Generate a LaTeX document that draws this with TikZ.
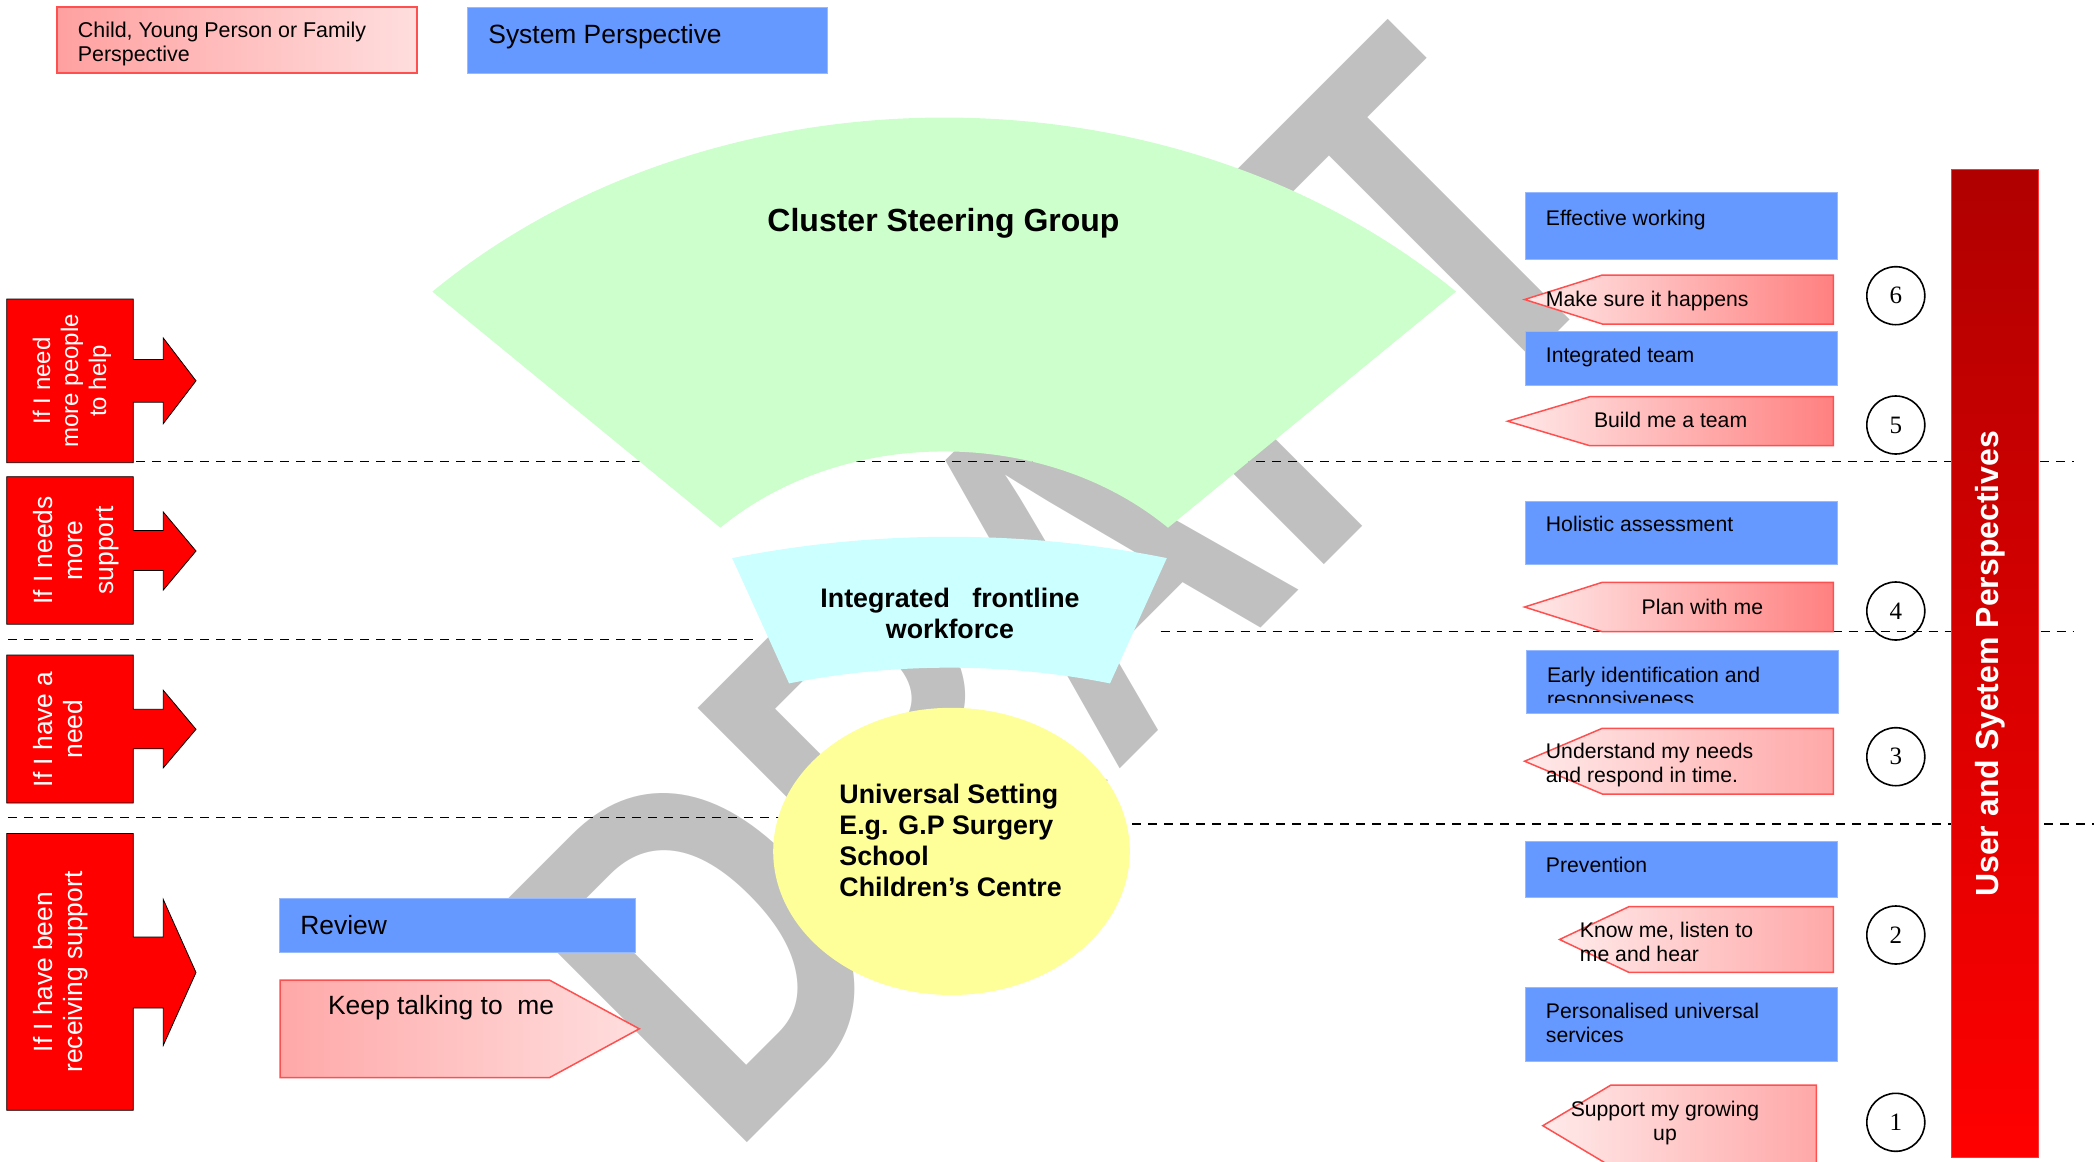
\documentclass[tikz,border=0pt]{standalone}
\usepackage{fontspec}
\setmainfont{Liberation Sans}
\newfontfamily\digitfont{Liberation Serif}
\usepackage{tikz}

\definecolor{boxblue}{RGB}{102,153,255}
\definecolor{boxedge}{RGB}{150,185,255}
\definecolor{pinkline}{RGB}{255,80,80}
\definecolor{pinklight}{RGB}{255,234,234}
\definecolor{pinkdark}{RGB}{255,128,128}
\definecolor{pinkmid}{RGB}{255,168,168}
\definecolor{legendleft}{RGB}{255,160,160}
\definecolor{legendright}{RGB}{255,222,222}
\definecolor{steergreen}{RGB}{204,255,204}
\definecolor{frontcyan}{RGB}{204,255,255}
\definecolor{univyellow}{RGB}{255,255,153}
\definecolor{needred}{RGB}{255,0,0}
\definecolor{bartop}{RGB}{176,0,0}
\definecolor{draftgrey}{RGB}{192,192,192}

\begin{document}
\begin{tikzpicture}[x=0.5pt,y=0.5pt,yscale=-1,xscale=1,
    bluebox/.style={fill=boxblue,draw=boxedge,line width=0.4pt},
    pinkarrow/.style={draw=pinkline,line width=0.75pt,left color=pinklight,right color=#1},
    pinkarrow/.default=pinkdark,
    needbox/.style={fill=needred},
    needtext/.style={rotate=90,text=white,align=center,anchor=base,inner sep=0pt,font=\fontsize{13.2}{15.35}\selectfont},
    boxtext/.style={anchor=base west,inner sep=0pt,align=left,font=\fontsize{10.6}{12}\selectfont},
    bigtext/.style={anchor=base west,inner sep=0pt,font=\fontsize{13.2}{15}\selectfont},
    boldtext/.style={inner sep=0pt,font=\bfseries\fontsize{13.4}{15.4}\selectfont},
    numcircle/.style={circle,draw,line width=0.8pt,minimum size=29pt,inner sep=0pt,font=\digitfont\fontsize{12.5}{14}\selectfont},
    dashline/.style={dash pattern=on 4.5pt off 3.5pt,line width=0.75pt}]
    \useasboundingbox (0,0) rectangle (2094,1162);
    \clip (0,0) rectangle (2094,1162);

    % Watermark
    \node (draft) [rotate=45,xscale=0.76,inner sep=0pt,text=draftgrey,font=\bfseries\fontsize{248}{248}\selectfont] at (1060,588) {DRAFT};

    %Dashed Lines
    \draw [dashline] (8,461.5) -- (2074,461.5) ;
    \draw [dashline] (8,639.5) -- (758.6,639.5) ;
    \draw [dashline] (1160.5,631.3) -- (2074,631.3) ;
    \draw [dashline] (8,817.5) -- (800,817.5) ;
    \draw [dashline] (1100,824) -- (2094,824) ;

    %Shape: Legend boxes
    \draw [draw=pinkline,line width=1pt,left color=legendleft,right color=legendright] (57.4,7.3) rectangle (417.3,73.3) ;
    \draw [bluebox] (467.3,7.3) rectangle (827.2,73.3) ;
    % Text Node
    \node (childlegend) [boxtext,font=\fontsize{10.7}{11.65}\selectfont] at (77.5,61) {Child, Young Person or Family\\Perspective};
    % Text Node
    \node (systemlegend) [bigtext] at (488,43) {System Perspective};

    %Shape: Cluster Steering Group
    \draw [fill=steergreen,draw=none] (432.4,291.6) arc [start angle=-135,end angle=-45,x radius=723.8,y radius=594.3] -- (1168,527.7) arc [start angle=-45,end angle=-135,x radius=316.5,y radius=260.4] -- cycle ;
    % Text Node
    \node (steering) [boldtext,anchor=base,font=\bfseries\fontsize{16}{18}\selectfont] at (943.5,231.5) {Cluster Steering Group};

    %Shape: Integrated frontline workforce
    \draw [fill=frontcyan,draw=none] (732.2,558.1) arc [start angle=-106.8,end angle=-73.2,x radius=751.9,y radius=499.5] -- (1110,683.4) arc [start angle=-73.2,end angle=-106.8,x radius=555.2,y radius=368.6] -- cycle ;
    % Text Node
    \node (frontline) [boldtext,anchor=base,align=center] at (950,638.6) {Integrated \ \ frontline\\workforce};

    %Shape: Universal Setting
    \draw [fill=univyellow,draw=none] (951.5,851.4) ellipse [x radius=178.3,y radius=143.6] ;
    % Text Node
    \node (universal) [boldtext,anchor=base west,align=left] at (839,896.3) {Universal Setting\\E.g. G.P Surgery\\School\\Children’s Centre};

    %Shape: Need boxes
    \draw [needbox] (6.7,299) -- (133.3,299) -- (133.3,359.4) -- (163.3,359.4) -- (163.3,338) -- (196,380.8) -- (163.3,423.6) -- (163.3,402.2) -- (133.3,402.2) -- (133.3,462.7) -- (6.7,462.7) -- cycle ;
    \draw [needbox] (6.7,476.7) -- (133.3,476.7) -- (133.3,530.4) -- (163.3,530.4) -- (163.3,512) -- (196,551) -- (163.3,590) -- (163.3,570.5) -- (133.3,570.5) -- (133.3,624.2) -- (6.7,624.2) -- cycle ;
    \draw [needbox] (6.7,655) -- (133.3,655) -- (133.3,709.3) -- (163.3,709.3) -- (163.3,690.3) -- (196,729.3) -- (163.3,767.8) -- (163.3,748.8) -- (133.3,748.8) -- (133.3,803) -- (6.7,803) -- cycle ;
    \draw [needbox] (6.7,833.4) -- (133.3,833.4) -- (133.3,937) -- (163.3,937) -- (163.3,899.5) -- (196,972.5) -- (163.3,1045.3) -- (163.3,1008) -- (133.3,1008) -- (133.3,1110.3) -- (6.7,1110.3) -- cycle ;
    % Text Node
    \node (needpeople) [needtext,font=\fontsize{12}{14}\selectfont] at (106,380.8) {If I need\\more people\\to help};
    % Text Node
    \node (needsupport) [needtext] at (113.5,550.4) {If I needs\\more\\support};
    % Text Node
    \node (needone) [needtext] at (83,729.3) {If I have a\\need};
    % Text Node
    \node (receiving) [needtext] at (83,972) {If I have been\\receiving support};

    %Shape: Review
    \draw [bluebox] (279.3,898.3) rectangle (635.7,952.3) ;
    % Text Node
    \node (review) [bigtext] at (300,934.5) {Review};
    %Shape: Keep talking
    \draw [draw=pinkline,line width=0.75pt,left color=pinkmid,right color=legendright] (280,980) -- (549.3,980) -- (639.3,1028.8) -- (549.3,1077.7) -- (280,1077.7) -- cycle ;
    % Text Node
    \node (keeptalking) [bigtext] at (327.7,1014.5) {Keep talking to\ \ me};

    %Shape: System boxes
    \draw [bluebox] (1525,192.7) rectangle (1837,259.3) ;
    \draw [bluebox] (1525,331) rectangle (1837,385) ;
    \draw [bluebox] (1525,501) rectangle (1837,564.3) ;
    \draw [bluebox] (1526,650.7) rectangle (1838.3,713.3) ;
    \draw [bluebox] (1525,841.3) rectangle (1837,897.3) ;
    \draw [bluebox] (1525,987.3) rectangle (1837,1061) ;
    % Text Node
    \node (effective) [boxtext] at (1545.5,225) {Effective working};
    % Text Node
    \node (intteam) [boxtext] at (1545.5,362.6) {Integrated team};
    % Text Node
    \node (holistic) [boxtext] at (1545.5,531) {Holistic assessment};
    % Text Node
    \begin{scope}
        \clip (1526,650.7) rectangle (1838.3,702.5);
        \node (earlyid) [boxtext] at (1546.6,706) {Early identification and\\responsiveness};
    \end{scope}
    % Text Node
    \node (prevention) [boxtext] at (1545.5,872.6) {Prevention};
    % Text Node
    \node (personalised) [boxtext] at (1545.5,1042.6) {Personalised universal\\services};

    %Shape: User arrows
    \draw [pinkarrow] (1524.6,299.5) -- (1602.3,275) -- (1833.3,275) -- (1833.3,324) -- (1602.3,324) -- cycle ;
    \draw [pinkarrow] (1507.6,421.2) -- (1589.8,396.7) -- (1833.3,396.7) -- (1833.3,445.7) -- (1589.8,445.7) -- cycle ;
    \draw [pinkarrow] (1524.6,607) -- (1602.3,582.3) -- (1833.3,582.3) -- (1833.3,631.7) -- (1602.3,631.7) -- cycle ;
    \draw [pinkarrow=pinkmid] (1524.6,761.2) -- (1602.3,728.3) -- (1833.3,728.3) -- (1833.3,794) -- (1602.3,794) -- cycle ;
    \draw [pinkarrow=pinkmid] (1559.5,939.5) -- (1628.8,906.7) -- (1833.3,906.7) -- (1833.3,972.3) -- (1628.8,972.3) -- cycle ;
    \draw [pinkarrow=pinkmid] (1542.8,1125.7) -- (1611,1085) -- (1816.3,1085) -- (1816.3,1166.4) -- (1611,1166.4) -- cycle ;
    % Text Node
    \node (makesure) [boxtext] at (1545.5,306.6) {Make sure it happens};
    % Text Node
    \node (buildteam) [boxtext] at (1593.6,427.6) {Build me a team};
    % Text Node
    \node (planwith) [boxtext] at (1641.3,614.3) {Plan with me};
    % Text Node
    \node (understand) [boxtext] at (1545.5,782.6) {Understand my needs\\and respond in time.};
    % Text Node
    \node (knowme) [boxtext] at (1579.5,961.6) {Know me, listen to\\me and hear};
    % Text Node
    \node (growing) [boxtext,anchor=base,align=center] at (1665,1140) {Support my growing\\up};

    %Shape: Circles
    \node (six) [numcircle] at (1895.8,295.7) {6};
    \node (five) [numcircle] at (1895.8,425) {5};
    \node (four) [numcircle] at (1895.8,611) {4};
    \node (three) [numcircle] at (1895.8,756.7) {3};
    \node (two) [numcircle] at (1895.8,935) {2};
    \node (one) [numcircle] at (1895.8,1122.3) {1};

    %Shape: Perspectives bar
    \draw [draw=needred!80,line width=0.5pt,top color=bartop,bottom color=needred] (1951.9,169.6) rectangle (2038.6,1157) ;
    % Text Node
    \node (perspectives) [rotate=90,text=white,inner sep=0pt,font=\bfseries\fontsize{16}{18}\selectfont] at (1990,663.7) {User and Syetem Perspectives};

\end{tikzpicture}
\end{document}
